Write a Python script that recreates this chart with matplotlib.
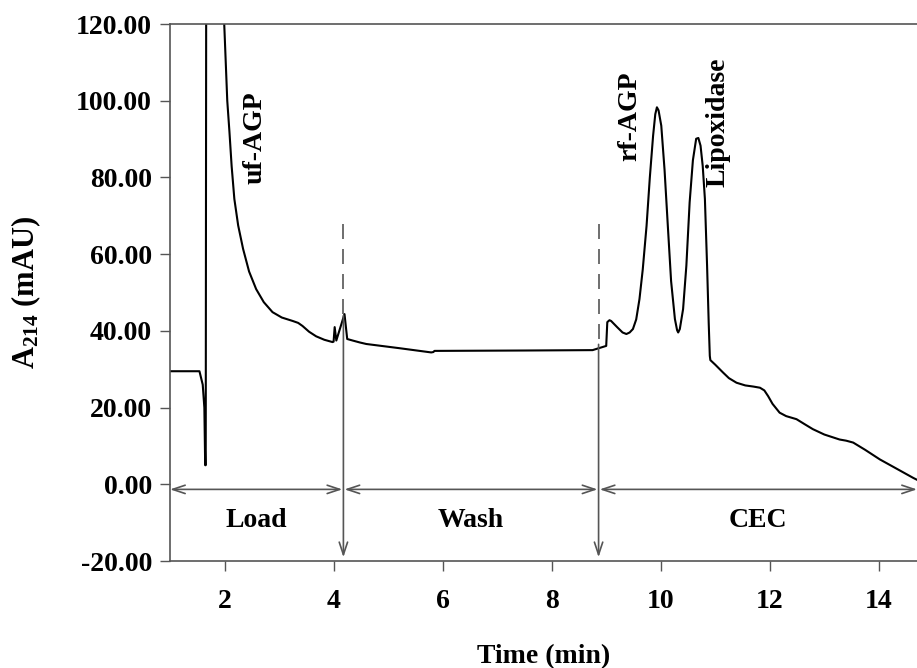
import matplotlib
matplotlib.use("Agg")
import matplotlib.pyplot as plt
import numpy as np

plt.rcParams['font.family'] = ['Liberation Serif', 'DejaVu Serif']
plt.rcParams['font.weight'] = 'bold'
plt.rcParams['mathtext.fontset'] = 'custom'
plt.rcParams['mathtext.rm'] = 'Liberation Serif:bold'
plt.rcParams['mathtext.bf'] = 'Liberation Serif:bold'
plt.rcParams['mathtext.it'] = 'Liberation Serif:bold'

# Chromatogram trace (time in min, absorbance in mAU)
time_min = [1.00, 1.54, 1.60, 1.63, 1.645, 1.655, 1.665, 1.80, 1.98, 2.00, 2.05, 2.09,
            2.13, 2.18, 2.25, 2.34, 2.45, 2.58, 2.72, 2.88, 3.05, 3.25, 3.35, 3.43,
            3.55, 3.68, 3.83, 3.98, 4.00, 4.02, 4.05, 4.20, 4.25, 4.35, 4.48,
            4.60, 5.21, 5.79, 5.83, 5.85, 7.50, 8.75, 9.00, 9.02, 9.06, 9.09, 9.20,
            9.30, 9.37, 9.43, 9.49, 9.55, 9.61, 9.67, 9.74, 9.80, 9.86, 9.90, 9.93,
            9.96, 10.01, 10.07, 10.13, 10.19, 10.26, 10.30, 10.32, 10.35, 10.41,
            10.47, 10.53, 10.59, 10.65, 10.69, 10.73, 10.77, 10.81, 10.85, 10.88,
            10.90, 10.91, 11.00, 11.14, 11.25, 11.39, 11.55, 11.70, 11.82, 11.90,
            11.97, 12.05, 12.18, 12.30, 12.49, 12.65, 12.79, 13.00, 13.28, 13.40,
            13.53, 13.75, 14.02, 14.30, 14.63, 14.70]
absorbance = [29.5, 29.5, 26.0, 20.0, 5.0, 5.0, 150.0, 150.0, 125.0, 118.0, 100.0, 91.9,
              83.0, 74.4, 67.5, 61.4, 55.5, 50.9, 47.5, 44.9, 43.5, 42.6, 42.1, 41.3,
              39.8, 38.6, 37.7, 37.1, 37.2, 41.0, 37.5, 44.4, 37.9, 37.5, 37.0,
              36.6, 35.5, 34.4, 34.5, 34.8, 34.9, 35.0, 36.1, 42.3, 42.8, 42.6, 41.0,
              39.6, 39.2, 39.6, 40.5, 43.0, 48.3, 56.0, 67.4, 80.0, 90.9, 96.5, 98.3,
              97.5, 93.5, 82.0, 67.4, 53.0, 43.1, 40.2, 39.6, 40.5, 45.7,
              57.0, 73.5, 84.5, 90.1, 90.3, 88.3, 83.0, 74.4, 57.0, 42.0,
              33.5, 32.4, 31.2, 29.2, 27.7, 26.5, 25.8, 25.5, 25.2, 24.5,
              23.0, 21.0, 18.7, 17.8, 17.0, 15.6, 14.4, 13.0, 11.7, 11.4,
              10.9, 9.0, 6.5, 4.3, 1.7, 1.2]

x_ticks = [2, 4, 6, 8, 10, 12, 14]
y_ticks = [-20, 0, 20, 40, 60, 80, 100, 120]

# Phase boundaries and labels
phase_bounds = [1.0, 4.18, 8.86, 14.7]
phase_names = ['Load', 'Wash', 'CEC']
peak_names = ['uf-AGP', 'rf-AGP', 'Lipoxidase']
peak_pos = [(2.55, 90.5), (9.43, 96.0), (11.05, 94.5)]

fig = plt.figure(figsize=(9.17, 6.68), dpi=100)
ax = fig.add_axes([0.1854, 0.160, 0.8146, 0.804])
ax.plot(time_min, absorbance, color='black', lw=1.5, solid_joinstyle='round')
ax.set_xlim(1.0, 14.7)
ax.set_ylim(-20, 120)
ax.set_xticks(x_ticks)
ax.set_yticks(y_ticks)
ax.set_yticklabels([f"{v:.2f}" for v in y_ticks])
ax.tick_params(direction='out', length=7, width=1, color='#555555',
               labelsize=20, pad=6)
ax.tick_params(axis='x', pad=13)
for lab in ax.get_xticklabels() + ax.get_yticklabels():
    lab.set_fontweight('bold')
for s in ['left', 'bottom', 'top']:
    ax.spines[s].set_color('#555555')
    ax.spines[s].set_linewidth(1.2)
ax.spines['right'].set_visible(False)

ax.set_xlabel('Time (min)', fontsize=20, fontweight='bold', labelpad=22)
ax.set_ylabel(r'A$_{214}$ (mAU)', fontsize=22, fontweight='bold', labelpad=24)

grey = '#555555'
arrow_y = -1.3
for i in range(3):
    x0 = phase_bounds[i] + (0.0 if i == 0 else 0.02)
    x1 = phase_bounds[i + 1] - (0.0 if i == 2 else 0.02)
    ax.annotate('', xy=(x1, arrow_y), xytext=(x0, arrow_y),
                arrowprops=dict(arrowstyle='<->,head_length=0.9,head_width=0.3',
                                color=grey, lw=1.2, shrinkA=0, shrinkB=0),
                annotation_clip=False)
    ax.text((phase_bounds[i] + phase_bounds[i + 1]) / 2, -9.5, phase_names[i],
            ha='center', va='center', fontsize=20, fontweight='bold')

# vertical boundary markers
vtops = [44.0, 36.5]
for xb, yt in zip(phase_bounds[1:3], vtops):
    ax.plot([xb, xb], [68, yt], color=grey, lw=1.2, dashes=(9, 6))
    ax.annotate('', xy=(xb, -19.0), xytext=(xb, yt),
                arrowprops=dict(arrowstyle='->,head_length=0.9,head_width=0.3',
                                color=grey, lw=1.2, shrinkA=0, shrinkB=0))

for name, (px, py) in zip(peak_names, peak_pos):
    ax.text(px, py, name, rotation=90, ha='center', va='center',
            fontsize=20, fontweight='bold')

fig.savefig('out.png', dpi=100)
